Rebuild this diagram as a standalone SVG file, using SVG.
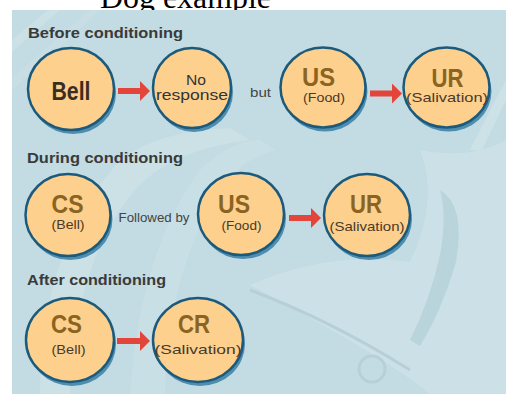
<svg xmlns="http://www.w3.org/2000/svg" width="506" height="394" viewBox="0 0 506 394">
<defs>
<style>
.title{font-family:"Liberation Serif","Times New Roman",serif;font-size:31px;fill:#000}
.sec{font-family:"Liberation Sans",Arial,sans-serif;font-size:15px;font-weight:bold;fill:#3a3a3a}
.big{font-family:"Liberation Sans Narrow","Liberation Sans",Arial,sans-serif;font-size:26px;font-weight:bold;fill:#8a6420;text-anchor:middle}
.bell{fill:#3b2e1f}
.sub{font-family:"Liberation Sans",Arial,sans-serif;font-size:13.5px;fill:#4a3a28;text-anchor:middle}
.nr{font-family:"Liberation Sans",Arial,sans-serif;font-size:14px;fill:#333;text-anchor:middle}
.conn{font-family:"Liberation Sans",Arial,sans-serif;font-size:12px;fill:#444;text-anchor:middle}
.sh{fill:#4d8db0}
.node{fill:#fdd08e;stroke:#1c5a7c;stroke-width:2.5}
.arrow{stroke:#e4453a;stroke-width:6;fill:none}
.deco{fill:#d0e4e9}
</style>
<marker id="ah" viewBox="0 0 10 20" refX="0" refY="10" markerWidth="10" markerHeight="20" markerUnits="userSpaceOnUse" orient="auto">
<path d="M0,0 L10,10 L0,20 z" fill="#e4453a"/>
</marker>
</defs>
<text class="title" x="100" y="8" textLength="171" lengthAdjust="spacingAndGlyphs">Dog example</text>
<g id="background">
<rect x="12" y="10" width="494" height="384" fill="#c3dbe2"/>
<path class="deco" d="M12,40 L48,10 L60,10 L12,52 z" opacity="0.6"/>
<path class="deco" d="M12,78 L90,10 L100,10 L12,90 z" opacity="0.4"/>
<path class="deco" d="M470,150 Q490,110 506,80 L506,100 Q494,125 482,150 z" opacity="0.8"/>
<path class="deco" d="M40,394 Q40,250 120,160 Q160,130 230,128 L250,140 Q170,150 135,190 Q75,260 70,394 z" opacity="0.6"/>
<path class="deco" d="M130,394 Q140,250 200,170 Q230,140 260,140 L275,150 Q225,165 205,215 Q165,300 165,394 z" opacity="0.5"/>
<path class="deco" d="M250,285 Q330,250 410,262 Q440,200 420,150 Q470,160 506,140 L506,394 L430,394 Q390,360 250,285 z" opacity="0.7"/>
<path d="M440,190 Q466,205 456,262 Q442,310 420,346 L410,340 Q430,300 440,255 Q447,215 440,190 z" fill="#bad4dc"/>
<path d="M250,290 Q330,320 410,370" stroke="#b7d0d8" stroke-width="3" fill="none"/>
<circle cx="372" cy="369" r="13" fill="none" stroke="#b7d0d8" stroke-width="3"/>
</g>
<g id="labels">
<text class="sec" x="28" y="38" textLength="155" lengthAdjust="spacingAndGlyphs">Before conditioning</text>
<text class="sec" x="27" y="163" textLength="156" lengthAdjust="spacingAndGlyphs">During conditioning</text>
<text class="sec" x="27" y="285" textLength="139" lengthAdjust="spacingAndGlyphs">After conditioning</text>
<text class="conn" x="260.5" y="97" textLength="21" lengthAdjust="spacingAndGlyphs">but</text>
<text class="conn" x="154" y="221.5" textLength="71" lengthAdjust="spacingAndGlyphs">Followed by</text>
</g>
<g id="connectors">
<line class="arrow" x1="118" y1="91" x2="140" y2="91" marker-end="url(#ah)"/>
<line class="arrow" x1="370" y1="93.5" x2="392" y2="93.5" marker-end="url(#ah)"/>
<line class="arrow" x1="289" y1="218" x2="311" y2="218" marker-end="url(#ah)"/>
<line class="arrow" x1="117" y1="341" x2="140" y2="341" marker-end="url(#ah)"/>
</g>
<g id="n-bell">
<ellipse class="sh" cx="73" cy="93" rx="43" ry="41"/>
<ellipse class="node" cx="71" cy="89" rx="43" ry="41"/>
<text class="big bell" x="71" y="100" font-size="27" textLength="39" lengthAdjust="spacingAndGlyphs">Bell</text>
</g>
<g id="n-noresponse">
<ellipse class="sh" cx="194" cy="92" rx="39" ry="40"/>
<ellipse class="node" cx="192" cy="88" rx="39" ry="40"/>
<text class="nr" x="196" y="85" textLength="20" lengthAdjust="spacingAndGlyphs">No</text>
<text class="nr" x="192" y="100" textLength="72" lengthAdjust="spacingAndGlyphs">response</text>
</g>
<g id="n-us1">
<ellipse class="sh" cx="325" cy="91.5" rx="42.5" ry="40"/>
<ellipse class="node" cx="323" cy="87.5" rx="42.5" ry="40"/>
<text class="big" x="318.5" y="86" textLength="33" lengthAdjust="spacingAndGlyphs">US</text>
<text class="sub" x="324" y="101.5" textLength="42" lengthAdjust="spacingAndGlyphs">(Food)</text>
</g>
<g id="n-ur1">
<ellipse class="sh" cx="448.5" cy="91.5" rx="43" ry="40"/>
<ellipse class="node" cx="446.5" cy="87.5" rx="43" ry="40"/>
<text class="big" x="447.5" y="86.5" textLength="32" lengthAdjust="spacingAndGlyphs">UR</text>
<text class="sub" x="447" y="101.5" textLength="82" lengthAdjust="spacingAndGlyphs">(Salivation)</text>
</g>
<g id="n-cs2">
<ellipse class="sh" cx="70" cy="219" rx="42.5" ry="41"/>
<ellipse class="node" cx="68" cy="215" rx="42.5" ry="41"/>
<text class="big" x="67.5" y="212.5" textLength="32" lengthAdjust="spacingAndGlyphs">CS</text>
<text class="sub" x="68" y="229" textLength="33" lengthAdjust="spacingAndGlyphs">(Bell)</text>
</g>
<g id="n-us2">
<ellipse class="sh" cx="243" cy="218" rx="43" ry="41"/>
<ellipse class="node" cx="241" cy="214" rx="43" ry="41"/>
<text class="big" x="234" y="212.5" textLength="32" lengthAdjust="spacingAndGlyphs">US</text>
<text class="sub" x="241.5" y="229.5" textLength="40" lengthAdjust="spacingAndGlyphs">(Food)</text>
</g>
<g id="n-ur2">
<ellipse class="sh" cx="369" cy="219" rx="43" ry="41"/>
<ellipse class="node" cx="367" cy="215" rx="43" ry="41"/>
<text class="big" x="366" y="213" textLength="32" lengthAdjust="spacingAndGlyphs">UR</text>
<text class="sub" x="367" y="231" textLength="75" lengthAdjust="spacingAndGlyphs">(Salivation)</text>
</g>
<g id="n-cs3">
<ellipse class="sh" cx="72" cy="344" rx="44" ry="42"/>
<ellipse class="node" cx="70" cy="340" rx="44" ry="42"/>
<text class="big" x="66.5" y="333" textLength="31" lengthAdjust="spacingAndGlyphs">CS</text>
<text class="sub" x="68.5" y="354" textLength="34" lengthAdjust="spacingAndGlyphs">(Bell)</text>
</g>
<g id="n-cr3">
<ellipse class="sh" cx="200" cy="344" rx="45" ry="42"/>
<ellipse class="node" cx="198" cy="340" rx="45" ry="42"/>
<text class="big" x="194" y="333" textLength="32" lengthAdjust="spacingAndGlyphs">CR</text>
<text class="sub" x="198" y="354" textLength="87" lengthAdjust="spacingAndGlyphs">(Salivation)</text>
</g>
</svg>
